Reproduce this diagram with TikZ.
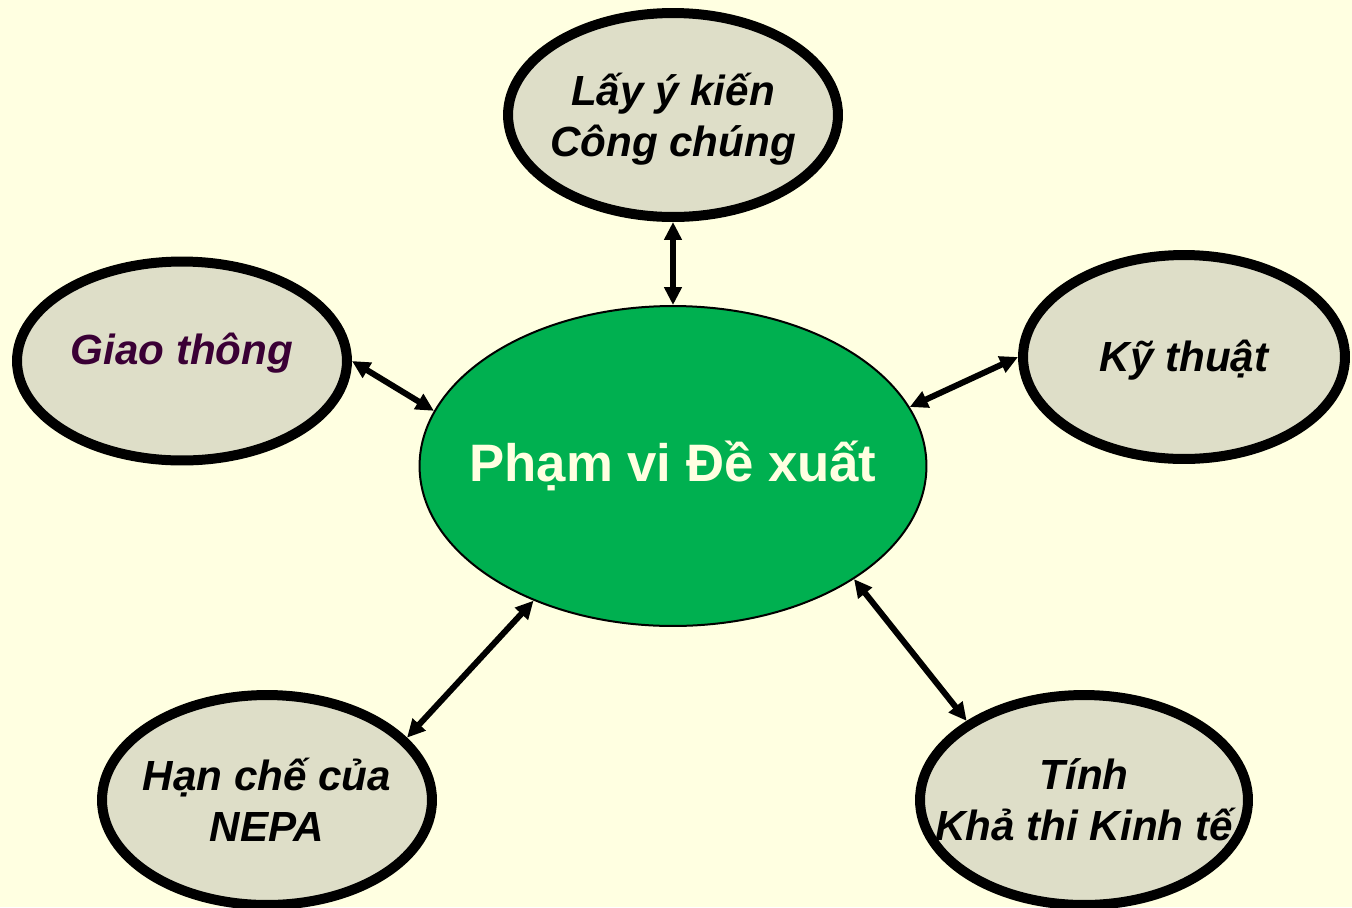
\documentclass[tikz,border=0pt]{standalone}
\usepackage{fontspec}
\setmainfont{Liberation Sans}
\usetikzlibrary{shapes.geometric, arrows.meta}
\definecolor{bgyellow}{HTML}{FFFFE1}
\definecolor{bubble}{HTML}{DEDEC8}
\definecolor{mygreen}{HTML}{00B050}
\definecolor{plum}{HTML}{3A0035}
\tikzset{
x=0.02cm, y=-0.02cm,
bubble/.style={ellipse, draw=black, line width=0.2cm, fill=bubble, inner sep=0pt,
  minimum width=6.6cm, minimum height=4.08cm}, % outer grey ellipses
bubbletext/.style={align=center, font=\fontsize{24}{29}\selectfont\bfseries\itshape},
link/.style={{Triangle[length=0.36cm,width=0.34cm]}-{Triangle[length=0.36cm,width=0.34cm]}, line width=0.12cm, black},
}
\begin{document}
\begin{tikzpicture}
  \fill[bgyellow] (0,0) rectangle (1352,907);
  \useasboundingbox (0,0) rectangle (1352,907);

  \node[ellipse, draw=black, line width=0.04cm, fill=mygreen, inner sep=0pt,
        minimum width=10.14cm, minimum height=6.4cm,
        label={[text=bgyellow, font=\fontsize{30}{36}\selectfont\bfseries]center:Phạm vi Đề xuất}] (scope) at (673,466) {};

  \node[bubble, label={[bubbletext, yshift=-0.08cm]center:Lấy ý kiến\\Công chúng}] (public) at (673,115) {};
  \node[bubble, minimum height=3.98cm, label={[bubbletext, text=plum, yshift=0.16cm]center:Giao thông}] (traffic) at (182,361) {};
  \node[bubble, minimum width=6.44cm, label={[bubbletext, yshift=-0.06cm]center:Kỹ thuật}] (tech) at (1184,357) {};
  \node[bubble, minimum height=4.2cm, label={[bubbletext]center:Hạn chế của\\NEPA}] (nepa) at (267,800) {};
  \node[bubble, minimum width=6.56cm, minimum height=4.2cm, label={[bubbletext]center:Tính\\Khả thi Kinh tế}] (econ) at (1084,800) {};

  \draw[link] (public.south) -- (scope.north);
  \draw[link] (traffic.east) -- (scope.167);
  \draw[link] (tech.west) -- (scope.14);
  \draw[link] (nepa.24) -- (scope.224);
  \draw[link] (econ.146) -- (scope.-32);
\end{tikzpicture}
\end{document}
